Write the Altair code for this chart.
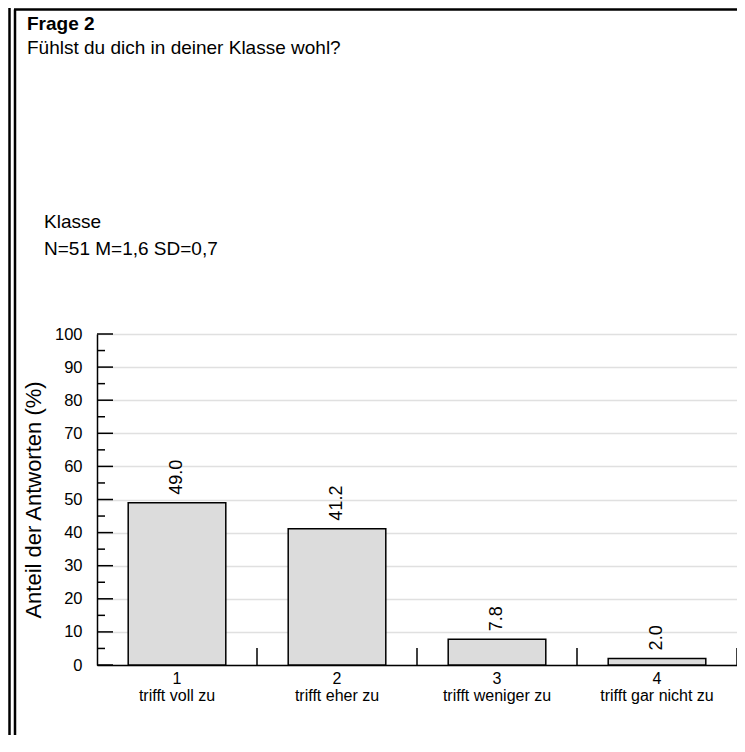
import altair as alt
import pandas as pd

# ---- data ----
codes = ["1", "2", "3", "4"]
answers = ["trifft voll zu", "trifft eher zu", "trifft weniger zu", "trifft gar nicht zu"]
shares = [49.0, 41.2, 7.8, 2.0]
major_ticks = list(range(0, 101, 10))
minor_ticks = list(range(5, 100, 10))
title_text = "Frage 2"
question_text = "Fühlst du dich in deiner Klasse wohl?"
group_text = "Klasse"
stats_text = "N=51 M=1,6 SD=0,7"
y_title = "Anteil der Antworten (%)"

W, H = 640, 331
FONT = "Liberation Sans"
PAD = {"left": 89, "top": 326, "right": 0, "bottom": 70}

bars_df = pd.DataFrame({"code": codes, "answer": answers, "share": shares})
bars_df["label"] = [f"{v:.1f}" for v in shares]
bars_df["lines"] = [[c, a] for c, a in zip(codes, answers)]

band_scale = alt.Scale(domain=codes, paddingInner=0.39, paddingOuter=0.195)
y_scale = alt.Scale(domain=[0, 100], nice=False, zero=True)
y_axis = alt.Axis(values=major_ticks, title=y_title, ticks=False,
                  domain=True, domainColor="black", domainWidth=1.5,
                  labelFontSize=16.5, labelColor="black", labelFont=FONT,
                  labelPadding=15, grid=True, gridColor="#e0e0e0",
                  gridWidth=1.5, titleFont=FONT, titleFontSize=22,
                  titleFontWeight="normal", titleColor="black",
                  titlePadding=9)

x_axis_band = alt.X(
    "code:N", sort=codes, scale=band_scale,
    axis=alt.Axis(labels=False, ticks=False, title=None, domain=True,
                  domainColor="black", domainWidth=1.5, grid=False),
)
x_band = alt.X("code:N", sort=codes, scale=band_scale, axis=None)

base = alt.Chart(bars_df)

bars = base.mark_bar(fill="#dcdcdc", stroke="black", strokeWidth=1.5).encode(
    x=x_axis_band,
    y=alt.Y("share:Q", scale=y_scale, axis=y_axis),
)

bar_labels = base.mark_text(angle=270, align="left", baseline="middle", dx=8,
                            font=FONT, fontSize=18, color="black").encode(
    x=x_band,
    y=alt.Y("share:Q", scale=y_scale, axis=y_axis),
    text="label:N",
)

cat_labels = base.mark_text(align="center", baseline="alphabetic", lineHeight=17,
                            font=FONT, fontSize=16, color="black").encode(
    x=x_band, y=alt.value(H + 19), text="lines",
)

# inward y ticks
major_df = pd.DataFrame({"share": major_ticks})
minor_df = pd.DataFrame({"share": minor_ticks})
major_rules = alt.Chart(major_df).mark_rule(color="black", strokeWidth=1.5).encode(
    x=alt.value(0), x2=alt.value(16), y=alt.Y("share:Q", scale=y_scale, axis=y_axis),
)
minor_rules = alt.Chart(minor_df).mark_rule(color="black", strokeWidth=1.5).encode(
    x=alt.value(0), x2=alt.value(8), y=alt.Y("share:Q", scale=y_scale, axis=y_axis),
)

# category boundary ticks on the x axis (pointing up)
bound_df = pd.DataFrame({"b": [i + 1.5 for i in range(len(codes))]})
bound_rules = alt.Chart(bound_df).mark_rule(color="black", strokeWidth=1.5).encode(
    x=alt.X("b:Q", scale=alt.Scale(domain=[0.5, len(codes) + 0.5], nice=False, zero=False), axis=None),
    y=alt.value(H - 17), y2=alt.value(H),
)

# header texts
one = pd.DataFrame({"t": [0]})
def note(text, x, y, size, weight="normal"):
    return alt.Chart(one).mark_text(align="left", baseline="alphabetic", font=FONT,
                                    fontSize=size, fontWeight=weight, color="black",
                                    text=text).encode(x=alt.value(x), y=alt.value(y))

t1 = note(title_text, -70, -304, 19, "bold")
t2 = note(question_text, -70, -280, 19)
t3 = note(group_text, -53, -106, 19)
t4 = note(stats_text, -53, -79, 19)

# page frame lines
def frame(**enc):
    return alt.Chart(one).mark_rule(color="black", strokeWidth=2.5).encode(**enc)

f1 = frame(x=alt.value(-87.5), y=alt.value(-330), y2=alt.value(H + 70))
f2 = frame(x=alt.value(-82), y=alt.value(-324.5), y2=alt.value(H + 70))
f3 = frame(x=alt.value(-83), x2=alt.value(W + 5), y=alt.value(-324.5))

chart = alt.layer(
    bars, bar_labels, cat_labels,
    major_rules, minor_rules, bound_rules,
    t1, t2, t3, t4, f1, f2, f3,
).resolve_scale(x="independent").properties(
    width=W, height=H, autosize="none", padding=PAD,
).configure_view(stroke=None)

chart.save("out.html", embed_options={"renderer": "svg", "actions": False})
